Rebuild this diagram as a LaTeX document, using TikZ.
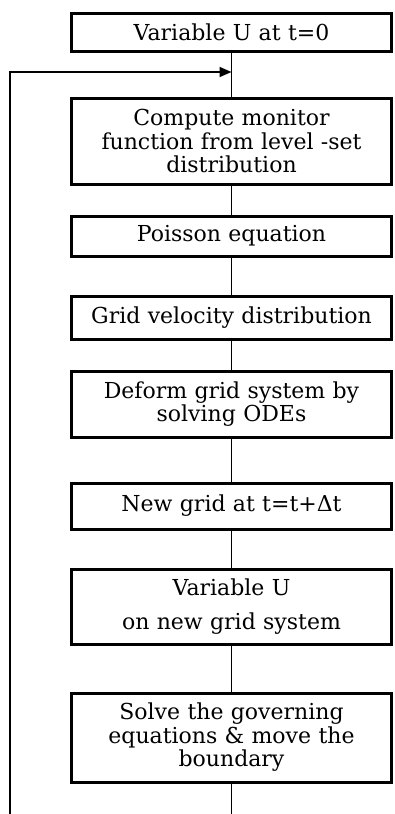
\documentclass[tikz,border=0pt]{standalone}
\usepackage{fontspec}
\setmainfont{DejaVu Serif}
\usetikzlibrary{arrows.meta}
\tikzset{
  procbox/.style={draw, line width=3pt, minimum width=320pt, text width=316pt,
    align=center, inner sep=0pt, font=\fontsize{22}{23.5}\selectfont},
  flowln/.style={line width=1.3pt},
  loopln/.style={-{Triangle[length=12pt,width=10pt]}, line width=1.8pt},
}

\begin{document}
\begin{tikzpicture}[x=1pt, y=-1pt]
    \useasboundingbox (0,0) rectangle (394,814);
    % process steps
    \node[procbox, minimum height=38] (init) at (231.5,32) {Variable U at t=0};
    \node[procbox, minimum height=86] (monitor) at (231.5,141)
      {Compute monitor\\ function from level -set\\ distribution};
    \node[procbox, minimum height=40] (poisson) at (231.5,236) {Poisson equation};
    \node[procbox, minimum height=43] (gridvel) at (231.5,317.5) {Grid velocity distribution};
    \node[procbox, minimum height=66] (deform) at (231.5,404)
      {Deform grid system by\\ solving ODEs};
    \node[procbox, minimum height=46] (newgrid) at (231.5,506) {New grid at t=t+Δt};
    \node[procbox, minimum height=75] (remap) at (231.5,606.5)
      {Variable U\\[11pt] on new grid system};
    \node[procbox, minimum height=89] (solve) at (231.5,737.5)
      {Solve the governing\\ equations \& move the\\ boundary};
    % straight flow downward
    \draw[flowln] (init.south) -- (monitor.north);
    \draw[flowln] (monitor.south) -- (poisson.north);
    \draw[flowln] (poisson.south) -- (gridvel.north);
    \draw[flowln] (gridvel.south) -- (deform.north);
    \draw[flowln] (deform.south) -- (newgrid.north);
    \draw[flowln] (newgrid.south) -- (remap.north);
    \draw[flowln] (remap.south) -- (solve.north);
    \coordinate (outend) at (solve.south |- 0,814);
    \draw[flowln] (solve.south) -- (outend);
    % time loop back to the top
    \coordinate (loopbot) at (10,814);
    \coordinate (loopturn) at (10,72);
    \draw[loopln] (loopbot) -- (loopturn) -- (init.south |- loopturn);
\end{tikzpicture}
\end{document}
